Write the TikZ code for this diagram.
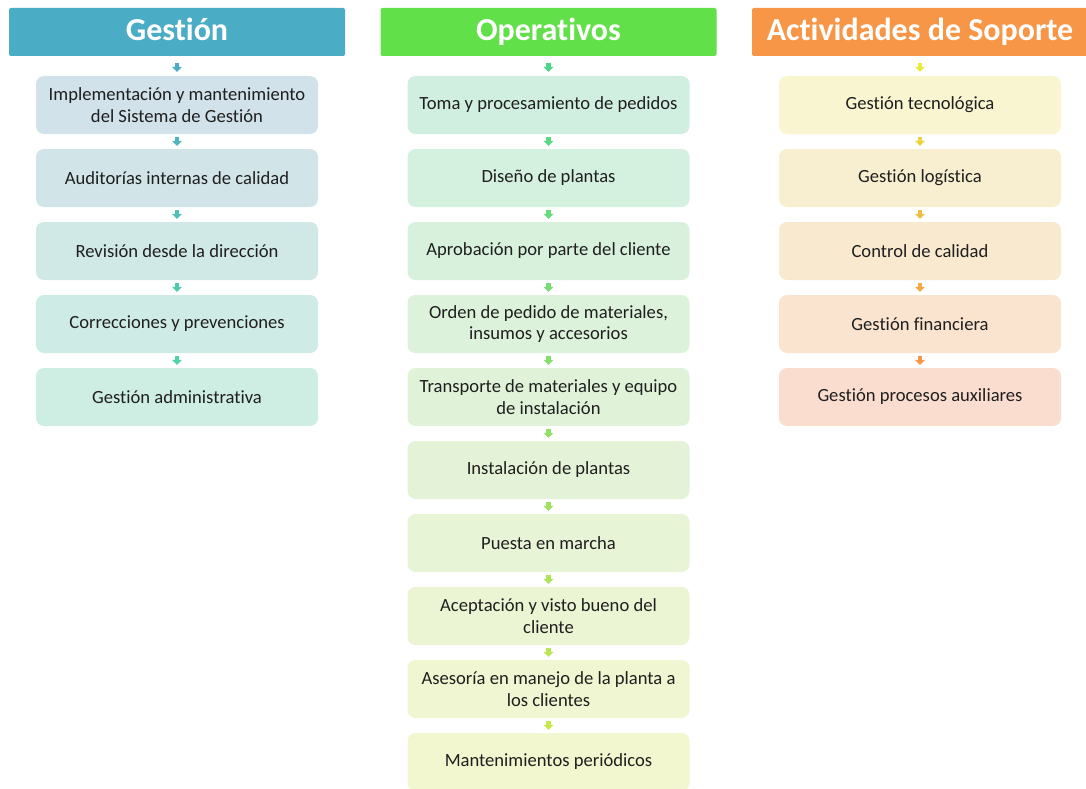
\documentclass[tikz,border=0pt]{standalone}
\usepackage{fontspec}
\setmainfont[Ligatures=NoCommon]{Carlito}
\usetikzlibrary{arrows.meta}
\definecolor{gHdr}{HTML}{4BACC6}
\definecolor{oHdr}{HTML}{62E04A}
\definecolor{sHdr}{HTML}{F79646}
\definecolor{gBoxA}{HTML}{D1E2EA}
\definecolor{gBoxB}{HTML}{CFEEE3}
\definecolor{gArA}{HTML}{4BACC6}
\definecolor{gArB}{HTML}{4FD4A8}
\definecolor{oBoxA}{HTML}{D0EFE1}
\definecolor{oBoxB}{HTML}{F3F7CF}
\definecolor{oArA}{HTML}{4CD68A}
\definecolor{oArB}{HTML}{C8E84A}
\definecolor{sBoxA}{HTML}{F8F5D0}
\definecolor{sBoxB}{HTML}{FADDCF}
\definecolor{sArA}{HTML}{E8E840}
\definecolor{sArB}{HTML}{F79646}
\begin{document}
\begin{tikzpicture}[x=1pt,y=-1pt,
  box/.style={rounded corners=8pt, minimum width=282pt, minimum height=58pt, align=center,
    font=\fontsize{18.6}{21.5}\selectfont, text=black!88, inner sep=2pt},
  hdr/.style={rounded corners=2pt, minimum width=336pt, minimum height=48pt,
    font=\fontsize{32}{34}\selectfont\bfseries, text=white, inner sep=0pt},
  link/.style={line width=4.6pt, -{Triangle[width=10pt,length=5pt]}}]
\useasboundingbox (0,0) rectangle (1086,789);
\begin{scope}
\clip (0,0) rectangle (1086,789);
% headers
\node[hdr, fill=gHdr] (g0) at (177,32) {\vphantom{Og}Gestión};
\node[hdr, fill=oHdr] (o0) at (548.5,32) {\vphantom{Og}Operativos};
\node[hdr, fill=sHdr] (s0) at (920,32) {\vphantom{Og}Actividades de Soporte};
% Gestion column
\foreach \t [count=\i] in {{Implementación y mantenimiento\\del Sistema de Gestión},
  {Auditorías internas de calidad},{Revisión desde la dirección},
  {Correcciones y prevenciones},{Gestión administrativa}}{
  \pgfmathtruncatemacro\p{100-100*(\i-1)/4}
  \colorlet{bx}{gBoxA!\p!gBoxB}
  \node[box, fill=bx] (g\i) at (177,{105+73*(\i-1)}) {\t};
}
% Operativos column
\foreach \t [count=\i] in {{Toma y procesamiento de pedidos},{Diseño de plantas},
  {Aprobación por parte del cliente},{Orden de pedido de materiales,\\insumos y accesorios},
  {Transporte de materiales y equipo\\de instalación},{Instalación de plantas},
  {Puesta en marcha},{Aceptación y visto bueno del\\cliente},
  {Asesoría en manejo de la planta a\\los clientes},{Mantenimientos periódicos}}{
  \pgfmathtruncatemacro\p{100-100*(\i-1)/9}
  \colorlet{bx}{oBoxA!\p!oBoxB}
  \node[box, fill=bx] (o\i) at (548.5,{105+73*(\i-1)}) {\t};
}
% Soporte column
\foreach \t [count=\i] in {{Gestión tecnológica},{Gestión logística},{Control de calidad},
  {Gestión financiera},{Gestión procesos auxiliares}}{
  \pgfmathtruncatemacro\p{100-100*(\i-1)/4}
  \colorlet{bx}{sBoxA!\p!sBoxB}
  \node[box, fill=bx] (s\i) at (920,{105+73*(\i-1)}) {\t};
}
% arrows
\foreach \c/\n in {g/5,o/10,s/5}{
  \foreach \i in {1,...,\n}{
    \pgfmathtruncatemacro\j{\i-1}
    \pgfmathtruncatemacro\p{100-100*(\i-1)/(\n-1)}
    \colorlet{ac}{\c ArA!\p!\c ArB}
    \ifnum\i=1 \def\sa{7pt}\def\sb{4pt}\else\def\sa{3pt}\def\sb{3pt}\fi
    \draw[link, draw=ac, fill=ac, shorten <=\sa, shorten >=\sb] (\c\j.south) -- (\c\i.north);
  }
}
\end{scope}
\end{tikzpicture}
\end{document}
